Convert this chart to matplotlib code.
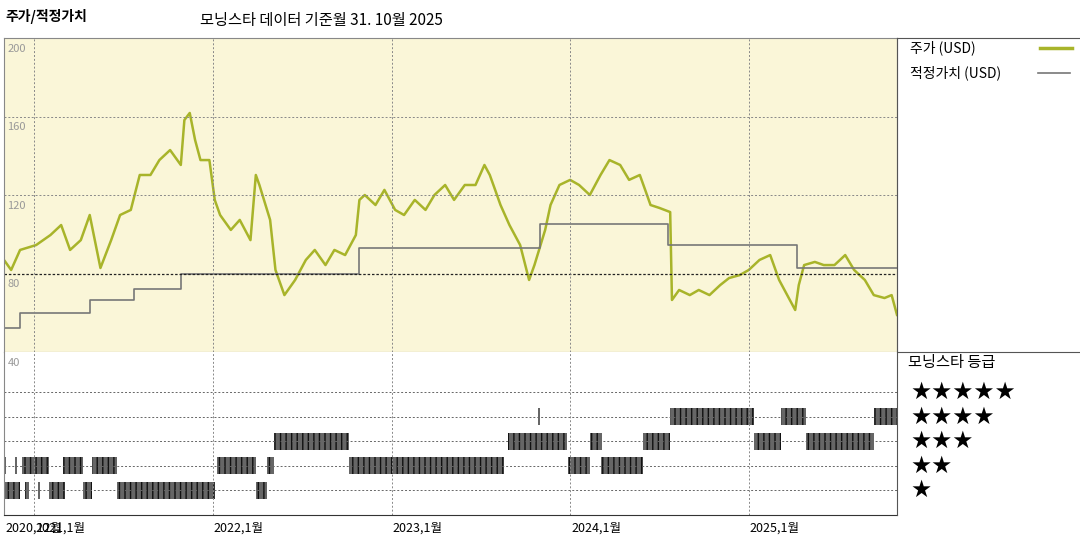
import matplotlib
matplotlib.use("Agg")
import matplotlib.pyplot as plt
from matplotlib.lines import Line2D

plt.rcParams['font.family'] = ['Noto Sans CJK KR', 'DejaVu Sans']

price_t = [2020.83,2020.87,2020.92,2021.01,2021.09,2021.15,2021.20,2021.26,2021.31,2021.37,2021.43,2021.48,2021.54,2021.59,2021.65,2021.70,2021.76,2021.82,2021.84,2021.87,2021.90,2021.93,2021.98,2022.01,2022.04,2022.10,2022.15,2022.21,2022.24,2022.26,2022.32,2022.35,2022.40,2022.46,2022.52,2022.57,2022.63,2022.68,2022.74,2022.80,2022.82,2022.85,2022.91,2022.96,2023.02,2023.07,2023.13,2023.19,2023.24,2023.30,2023.35,2023.41,2023.47,2023.52,2023.55,2023.58,2023.61,2023.66,2023.72,2023.77,2023.80,2023.86,2023.89,2023.94,2024.00,2024.05,2024.11,2024.17,2024.22,2024.28,2024.33,2024.39,2024.42,2024.45,2024.50,2024.56,2024.57,2024.61,2024.67,2024.72,2024.78,2024.84,2024.89,2024.95,2025.00,2025.06,2025.12,2025.17,2025.23,2025.26,2025.28,2025.31,2025.37,2025.42,2025.48,2025.54,2025.59,2025.65,2025.70,2025.76,2025.80,2025.83]
price_v = [86.9,81.8,92,94.5,99.6,104.7,92,97,109.8,82.8,97,109.8,112.4,130.2,130.2,137.8,142.9,135.3,158.2,161.8,148,137.8,137.8,117.5,109.8,102.2,107.3,97,130.2,125.1,107.3,81.8,69,76.7,86.9,92,84.3,92,89.4,99.6,117.5,120,114.9,122.6,112.4,109.8,117.5,112.4,120,125.1,117.5,125.1,125.1,135.3,130.2,122.6,114.9,104.7,94.5,76.7,84.3,102.2,114.9,125.1,127.7,125.1,120,130.2,137.8,135.3,127.7,130.2,122.6,114.9,113.4,111.3,66.5,71.6,69,71.6,69,74.1,77.7,79.2,81.8,86.9,89.4,76.7,66.5,61.4,74.1,84.3,85.9,84.3,84.3,89.4,81.8,76.7,69,67.5,69,58.9]

fair_t = [2020.83,2020.92,2021.31,2021.56,2021.82,2022.82,2023.83,2024.55,2025.27,2025.83]
fair_v = [52,60,66.5,72,80,93,105,94.5,83,83]

rating_1 = [(2020.83,2020.92),(2020.95,2020.97),(2021.02,2021.03),(2021.08,2021.17),(2021.27,2021.32),(2021.46,2022.01),(2022.24,2022.30)]
rating_2 = [(2020.83,2020.84),(2020.89,2020.90),(2020.93,2021.08),(2021.16,2021.27),(2021.32,2021.46),(2022.02,2022.24),(2022.30,2022.34),(2022.76,2023.63),(2023.99,2024.11),(2024.17,2024.41)]
rating_3 = [(2022.34,2022.76),(2023.65,2023.98),(2024.11,2024.18),(2024.41,2024.56),(2025.03,2025.18),(2025.32,2025.70)]
rating_4 = [(2023.82,2023.83),(2024.56,2025.03),(2025.18,2025.32),(2025.70,2025.83)]
ratings = {1: rating_1, 2: rating_2, 3: rating_3, 4: rating_4}

year_ticks = [2021, 2022, 2023, 2024, 2025]
year_labels = ["2021,1월", "2022,1월", "2023,1월", "2024,1월", "2025,1월"]
price_ticks = [200, 160, 120, 80]

W, H = 1080, 540
fig = plt.figure(figsize=(W/100, H/100), dpi=100)
def fx(x): return x / W
def fy(y): return 1 - y / H

X0, X1 = 2020.83, 2025.83
bg = '#faf6d8'
olive = '#a8b42a'

ax = fig.add_axes([fx(4), fy(352), fx(893), (352-38)/H])
ax.set_facecolor(bg)
ax.plot(price_t, price_v, color=olive, lw=1.8)
ax.step(fair_t, fair_v, where='post', color='#777777', lw=1.2)
ax.set_xlim(X0, X1); ax.set_ylim(40, 200)
for v in [160, 120]:
    ax.axhline(v, color='#888888', lw=0.7, ls=(0, (2, 2)))
ax.axhline(80, color='#222222', lw=0.9, ls=(0, (2, 1.5)))
for t in year_ticks:
    ax.axvline(t, color='#888888', lw=0.7, ls=(0, (2, 2)))
for v in price_ticks:
    ax.text(X0 + 0.02, v - 3, str(v), color='#999999', fontsize=8, va='top', ha='left')
ax.set_xticks([]); ax.set_yticks([])
for s in ax.spines.values():
    s.set_color('#888888'); s.set_linewidth(0.8)

ax2 = fig.add_axes([fx(4), fy(515), fx(893), (515-352)/H])
ax2.set_xlim(X0, X1); ax2.set_ylim(0, 6.63)
for r in range(1, 6):
    ax2.axhline(r, color='#666666', lw=0.7, ls=(0, (2, 2)))
for t in year_ticks:
    ax2.axvline(t, color='#888888', lw=0.7, ls=(0, (2, 2)))
for r, segs in ratings.items():
    ax2.broken_barh([(a, b - a) for a, b in segs], (r - 0.35, 0.7),
                    facecolor='#666666', edgecolor='#111111', hatch='|||', lw=0)
ax2.text(X0 + 0.02, 6.4, "40", color='#999999', fontsize=8, va='top')
ax2.set_xticks([]); ax2.set_yticks([])
for k in ['top', 'right']:
    ax2.spines[k].set_visible(False)
ax2.spines['left'].set_color('#888888')
ax2.spines['bottom'].set_color('#333333')

fig.text(fx(5), fy(522), "2020,12월", fontsize=9, va='top')
for t, lab in zip(year_ticks, year_labels):
    x = 4 + (t - X0) / (X1 - X0) * 893
    fig.text(fx(x + 1), fy(522), lab, fontsize=9, va='top')

for y in [38, 352]:
    fig.add_artist(Line2D([fx(897), 1], [fy(y), fy(y)], color='#555555', lw=0.8))
fig.add_artist(Line2D([fx(897), fx(897)], [fy(515), fy(38)], color='#555555', lw=0.8))

fig.text(fx(910), fy(48), "주가 (USD)", fontsize=10, va='center')
fig.add_artist(Line2D([fx(1040), fx(1072)], [fy(48), fy(48)], color=olive, lw=2.5))
fig.text(fx(910), fy(73), "적정가치 (USD)", fontsize=10, va='center')
fig.add_artist(Line2D([fx(1038), fx(1070)], [fy(73), fy(73)], color='#777777', lw=1.2))
fig.text(fx(908), fy(362), "모닝스타 등급", fontsize=11, va='center')
for i, n in enumerate([5, 4, 3, 2, 1]):
    fig.text(fx(910), fy(392 + i * 24.5), "★" * n, fontsize=17, va='center',
             family=['DejaVu Sans'])

fig.text(fx(5), fy(17), "주가/적정가치", fontsize=10, fontweight='bold', va='center')
fig.text(fx(200), fy(20), "모닝스타 데이터 기준월 31. 10월 2025", fontsize=11, va='center')

fig.savefig("out.png", dpi=100)
